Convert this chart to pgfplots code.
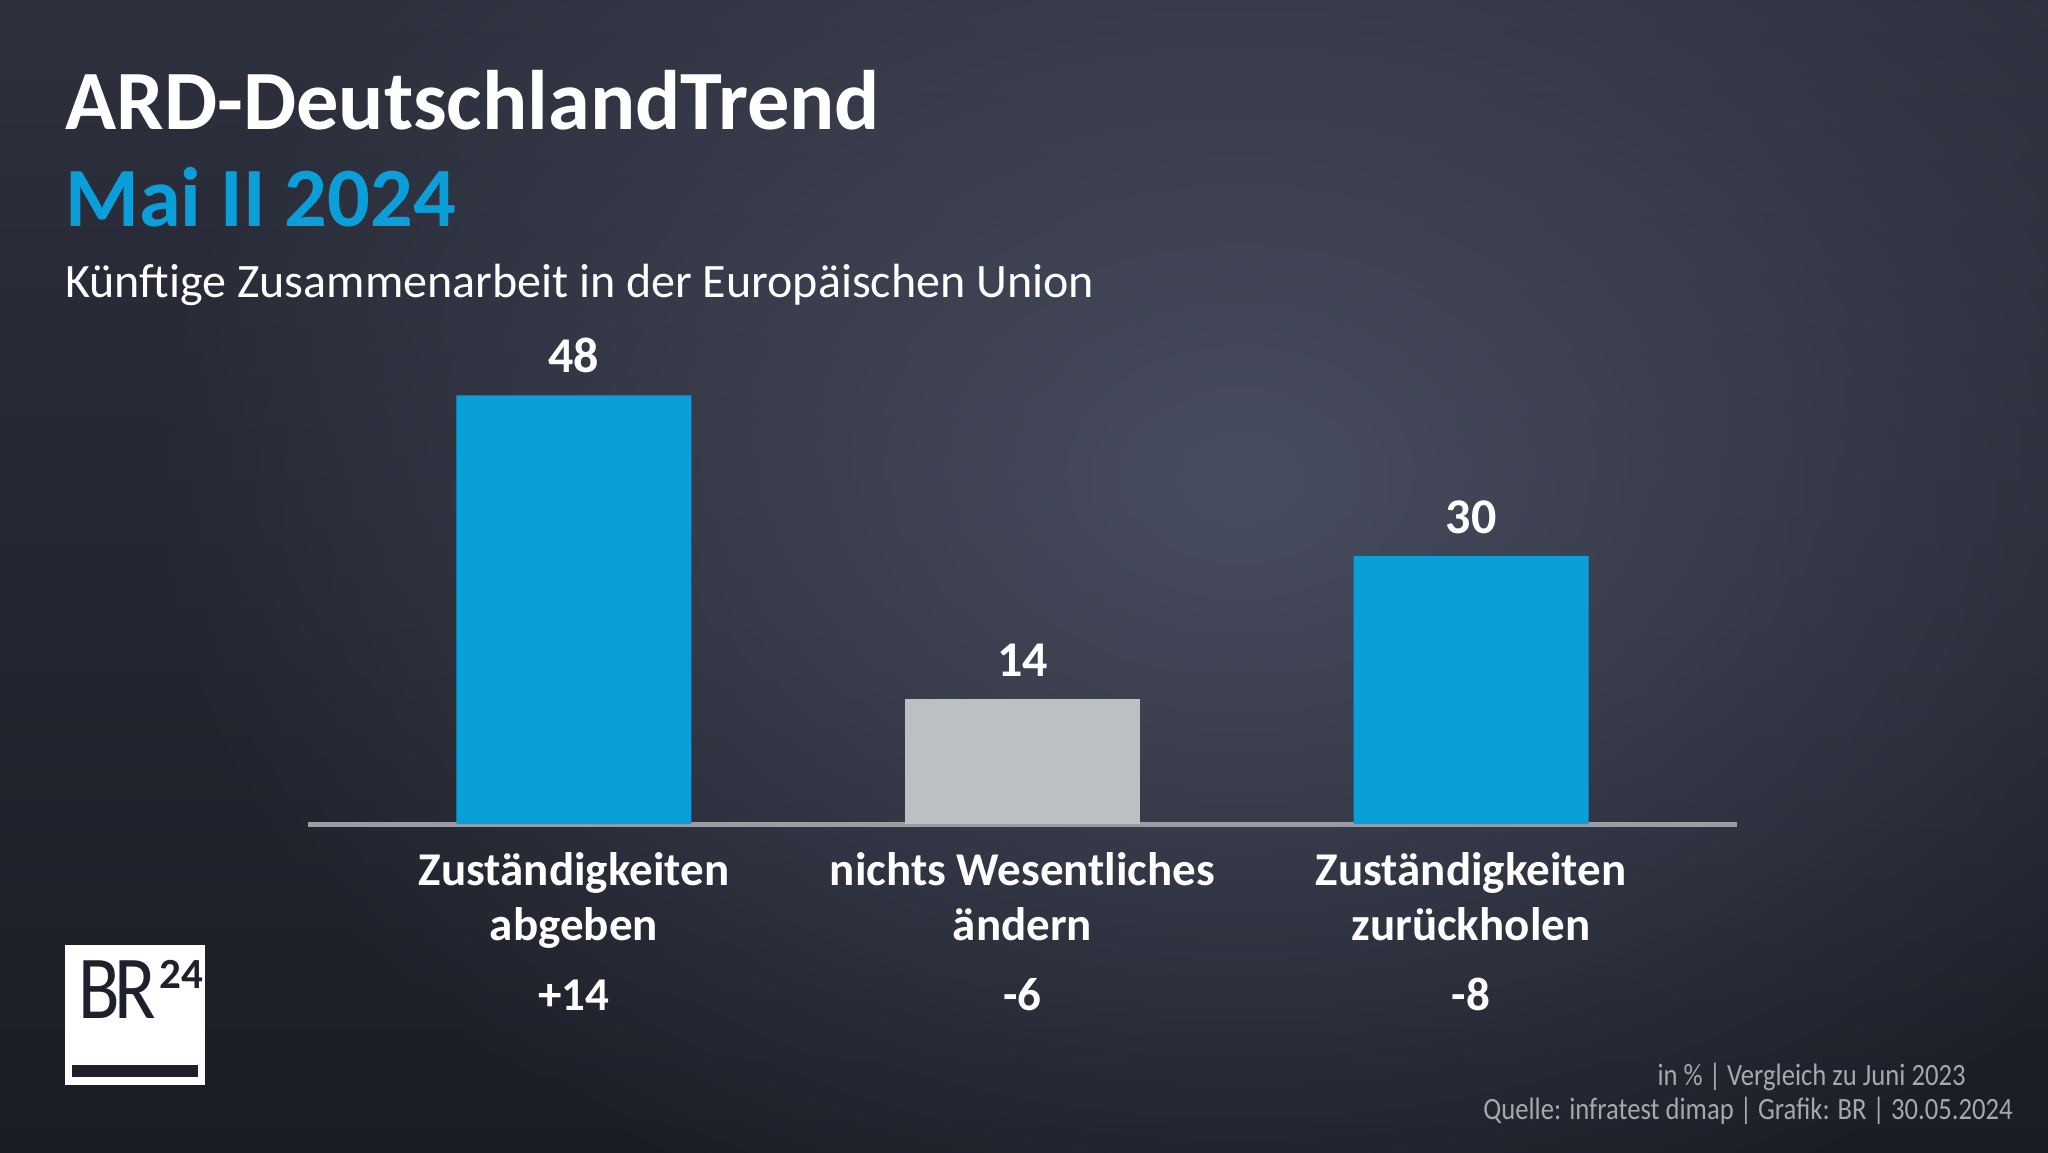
\documentclass[border=0pt]{standalone}
\usepackage{fontspec}
\setmainfont{Carlito}
\newfontfamily\footfont{Carlito}[FakeStretch=0.86]
\newfontfamily\logofont{Carlito}[FakeStretch=0.85]
\usepackage{pgfplots}
\pgfplotsset{compat=1.18}
\usetikzlibrary{fadings}
\definecolor{barblue}{HTML}{0A9FD8}
\definecolor{bargray}{HTML}{BDC0C3}
\definecolor{axgray}{HTML}{9A9DA3}
\definecolor{foot}{HTML}{A5A8AE}
\definecolor{bgtop}{HTML}{2D303D}
\definecolor{bgbot}{HTML}{1B1D26}
\definecolor{glow}{HTML}{484D60}
\definecolor{logodark}{HTML}{1E212B}
\tikzfading[name=glowfade, inner color=transparent!0, outer color=transparent!100]
\begin{document}
\begin{tikzpicture}
\begin{scope}[x=0.5pt,y=0.5pt]
\path[use as bounding box] (0,0) rectangle (2048,1152);
\shade[top color=bgtop, bottom color=bgbot] (0,0) rectangle (2048,1152);
\fill[glow, path fading=glowfade] (1240,672) ellipse [x radius=1100, y radius=800];
% titles
\node[anchor=base west, inner sep=0, text=white, font=\bfseries\fontsize{42.2}{42.2}\selectfont] at (65,1022) {ARD-DeutschlandTrend};
\node[anchor=base west, inner sep=0, text=barblue, font=\bfseries\fontsize{42.2}{42.2}\selectfont] at (65,925) {Mai II 2024};
\node[anchor=base west, inner sep=0, text=white, font=\fontsize{24}{24}\selectfont] at (65,854) {Künftige Zusammenarbeit in der Europäischen Union};
% footer
\node[anchor=base east, inner sep=0, text=foot, font=\footfont\fontsize{15.5}{15.5}\selectfont] at (1966,67) {in \% | Vergleich zu Juni 2023};
\node[anchor=base east, inner sep=0, text=foot, font=\footfont\fontsize{15.5}{15.5}\selectfont] at (2013,33) {Quelle: infratest dimap | Grafik: BR | 30.05.2024};
% logo
\fill[white] (65,207) rectangle (205,67);
\fill[logodark] (72,87) rectangle (198,75);
\node[anchor=base west, inner sep=0, text=logodark, font=\logofont\fontsize{45}{45}\selectfont] at (78,134) {B\kern-3pt R};
\node[anchor=base west, inner sep=0, text=logodark, font=\bfseries\fontsize{21.5}{21.5}\selectfont] at (159,164) {24};
\end{scope}
% chart
\begin{axis}[at={(154pt,164pt)}, anchor=south west,
  width=714.5pt, height=223.25pt, scale only axis,
  xmin=-0.593, xmax=2.593, ymin=0, ymax=50,
  axis y line=none, axis x line*=bottom,
  x axis line style={draw=axgray, line width=2.5pt, -},
  xtick={0,1,2},
  xticklabels={{Zuständigkeiten\\abgeben\\[7.5pt]+14},{nichts Wesentliches\\ändern\\[7.5pt]-6},{Zuständigkeiten\\zurückholen\\[7.5pt]-8}},
  major tick length=0pt, xtick style={draw=none},
  xticklabel style={text=white, font=\bfseries\fontsize{23.5}{27.5}\selectfont, align=center, anchor=north, inner sep=0pt, yshift=-14pt},
  ybar, bar width=117.5pt,
  nodes near coords,
  /pgf/number format/assume math mode=true,
  every node near coord/.append style={text=white, font=\bfseries\fontsize{25}{25}\selectfont, anchor=south, inner sep=0pt, yshift=11pt},
  clip=false]
\addplot[fill=barblue, draw=none, bar shift=0pt] coordinates {(0,48) (2,30)};
\addplot[fill=bargray, draw=none, bar shift=0pt] coordinates {(1,14)};
\end{axis}
\end{tikzpicture}
\end{document}
